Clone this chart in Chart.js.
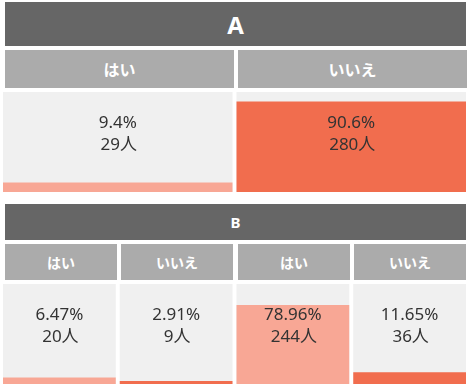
<!DOCTYPE html>
<html>
<head>
<meta charset="utf-8">
<script src="https://cdn.jsdelivr.net/npm/chart.js@4"></script>
<style>
  html, body { margin: 0; padding: 0; background: #fff; }
  body { width: 471px; height: 384px; position: relative; overflow: hidden;
         font-family: "Noto Sans", "Noto Sans CJK JP", sans-serif; }
  .box { position: absolute; color: #fff; font-weight: bold; display: flex;
         align-items: center; justify-content: center; }
  .title { background: #666666; }
  .sub { background: #ababab; font-size: 14px; }
  canvas { position: absolute; }
</style>
</head>
<body>
<div id="page"></div>
<script>
// panel A
const titleA = "A";
const catsA = ["はい", "いいえ"];
const pctA = [9.4, 90.6];
const countA = [29, 280];

// panel B
const titleB = "B";
const catsB = ["はい", "いいえ", "はい", "いいえ"];
const pctB = [6.47, 2.91, 78.96, 11.65];
const countB = [20, 9, 244, 36];

const pink = "#f8a795";
const orange = "#f16d4e";

const page = document.getElementById("page");

function addBox(cls, text, x, y, w, h, size) {
  let d = document.createElement("div");
  d.className = "box " + cls;
  d.textContent = text;
  d.style.left = x + "px";
  d.style.top = y + "px";
  d.style.width = w + "px";
  d.style.height = h + "px";
  if (size) d.style.fontSize = size + "px";
  page.appendChild(d);
}

//gray cell behind each bar + the two text lines
const cellPlugin = {
  id: "cells",
  beforeDatasetsDraw(chart) {
    const ctx = chart.ctx;
    const meta = chart.getDatasetMeta(0);
    const area = chart.chartArea;
    ctx.save();
    ctx.fillStyle = "#f0f0f0";
    meta.data.forEach((bar) => {
      ctx.fillRect(bar.x - bar.width / 2, area.top, bar.width, area.bottom - area.top);
    });
    ctx.restore();
  },
  afterDatasetsDraw(chart) {
    const ctx = chart.ctx;
    const meta = chart.getDatasetMeta(0);
    const counts = chart.options.plugins.cells.counts;
    const pcts = chart.data.datasets[0].data;
    ctx.save();
    ctx.fillStyle = "#333333";
    ctx.font = '17px "Noto Sans", "Noto Sans CJK JP", sans-serif';
    ctx.textAlign = "center";
    ctx.textBaseline = "middle";
    meta.data.forEach((bar, i) => {
      ctx.fillText(pcts[i] + "%", bar.x, chart.chartArea.top + 31);
      ctx.fillText(counts[i] + "人", bar.x + 1, chart.chartArea.top + 53);
    });
    ctx.restore();
  }
};

function makePanel(title, titleSize, subSize, cats, pcts, counts, top, titleH, subH) {
  addBox("title", title, 5, top, 461, titleH, titleSize);
  const n = cats.length;
  const cw = (461 + 4) / n;
  cats.forEach((c, i) => {
    addBox("sub", c, Math.round(5 + i * cw), top + titleH + 4, Math.round(cw - 4), subH, subSize);
  });
  const canvas = document.createElement("canvas");
  canvas.style.left = "1px";
  canvas.style.top = (top + titleH + 4 + subH + 4) + "px";
  canvas.width = 467;
  canvas.height = 100;
  canvas.style.width = "467px";
  canvas.style.height = "100px";
  page.appendChild(canvas);
  const catW = 467 / n;
  new Chart(canvas, {
    type: "bar",
    plugins: [cellPlugin],
    data: {
      labels: cats,
      datasets: [{
        data: pcts,
        backgroundColor: cats.map((c, i) => (i % 2 == 0 ? pink : orange)),
        borderWidth: 0,
        barPercentage: 1,
        categoryPercentage: (catW - 4) / catW,
      }],
    },
    options: {
      responsive: false,
      animation: false,
      layout: { padding: 0 },
      scales: {
        x: { display: false },
        y: { display: false, min: 0, max: 100 },
      },
      plugins: {
        legend: { display: false },
        tooltip: { enabled: false },
        cells: { counts: counts },
      },
    },
  });
}

makePanel(titleA, 24, 16, catsA, pctA, countA, 2, 44, 38);
makePanel(titleB, 15, 14, catsB, pctB, countB, 204, 36, 36);
</script>
</body>
</html>
